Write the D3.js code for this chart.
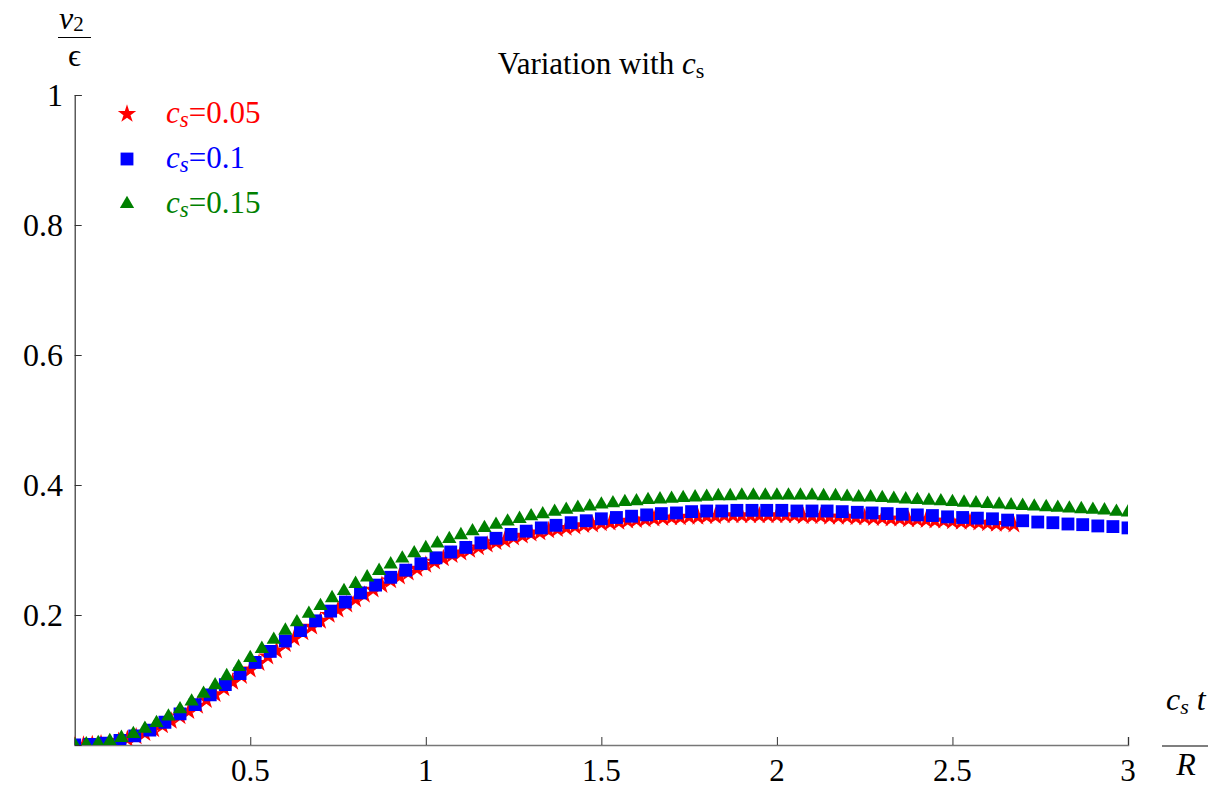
<!DOCTYPE html>
<meta charset="utf-8">
<script src="https://d3js.org/d3.v7.min.js"></script>
<style>
  body { margin: 0; background: #fff; }
</style>
<div id="chart"></div>
<script>
// data: [c_s t / R, v2 / epsilon]
var red = [[0,0],[0.025,0],[0.05,0.001],[0.075,0.002],[0.1,0.003],[0.125,0.006],[0.15,0.009],[0.175,0.013],
  [0.2,0.018],[0.225,0.024],[0.25,0.03],[0.275,0.037],[0.3,0.044],[0.325,0.052],[0.35,0.06],[0.375,0.069],
  [0.4,0.078],[0.425,0.087],[0.45,0.097],[0.475,0.106],[0.5,0.116],[0.525,0.126],[0.55,0.136],[0.575,0.145],
  [0.6,0.155],[0.625,0.164],[0.65,0.173],[0.675,0.182],[0.7,0.191],[0.725,0.2],[0.75,0.208],[0.775,0.216],
  [0.8,0.224],[0.825,0.231],[0.85,0.239],[0.875,0.246],[0.9,0.253],[0.925,0.259],[0.95,0.265],[0.975,0.271],
  [1,0.277],[1.025,0.282],[1.05,0.287],[1.075,0.292],[1.1,0.296],[1.125,0.3],[1.15,0.304],[1.175,0.308],
  [1.2,0.312],[1.225,0.315],[1.25,0.319],[1.275,0.322],[1.3,0.325],[1.325,0.327],[1.35,0.33],[1.375,0.332],
  [1.4,0.334],[1.425,0.336],[1.45,0.338],[1.475,0.339],[1.5,0.341],[1.525,0.342],[1.55,0.343],[1.575,0.345],
  [1.6,0.346],[1.625,0.347],[1.65,0.348],[1.675,0.349],[1.7,0.35],[1.725,0.35],[1.75,0.351],[1.775,0.351],
  [1.8,0.352],[1.825,0.352],[1.85,0.353],[1.875,0.353],[1.9,0.353],[1.925,0.353],[1.95,0.353],[1.975,0.353],
  [2,0.353],[2.025,0.353],[2.05,0.353],[2.075,0.352],[2.1,0.352],[2.125,0.352],[2.15,0.351],[2.175,0.351],
  [2.2,0.351],[2.225,0.35],[2.25,0.35],[2.275,0.349],[2.3,0.349],[2.325,0.348],[2.35,0.348],[2.375,0.347],
  [2.4,0.347],[2.425,0.346],[2.45,0.345],[2.475,0.345],[2.5,0.344],[2.525,0.343],[2.55,0.343],[2.575,0.342],
  [2.6,0.341],[2.625,0.34],[2.65,0.34],[2.675,0.339]];

var blue = [[0,0],[0.043,0.001],[0.086,0.003],[0.129,0.007],[0.171,0.014],[0.214,0.023],[0.257,0.035],
  [0.3,0.048],[0.343,0.062],[0.386,0.077],[0.429,0.093],[0.471,0.11],[0.514,0.127],[0.557,0.144],[0.6,0.16],
  [0.643,0.176],[0.686,0.191],[0.729,0.206],[0.771,0.22],[0.814,0.234],[0.857,0.246],[0.9,0.258],[0.943,0.269],
  [0.986,0.279],[1.029,0.288],[1.071,0.297],[1.114,0.304],[1.157,0.311],[1.2,0.318],[1.243,0.324],[1.286,0.329],
  [1.329,0.334],[1.371,0.338],[1.414,0.342],[1.457,0.345],[1.5,0.348],[1.543,0.35],[1.586,0.352],[1.629,0.354],
  [1.671,0.356],[1.714,0.357],[1.757,0.359],[1.8,0.36],[1.843,0.36],[1.886,0.361],[1.929,0.361],[1.971,0.361],
  [2.014,0.361],[2.057,0.36],[2.1,0.36],[2.143,0.36],[2.186,0.359],[2.229,0.358],[2.271,0.357],[2.314,0.356],
  [2.357,0.355],[2.4,0.354],[2.443,0.353],[2.486,0.351],[2.529,0.35],[2.571,0.349],[2.614,0.348],[2.657,0.346],
  [2.7,0.345],[2.743,0.343],[2.786,0.342],[2.829,0.34],[2.871,0.339],[2.914,0.337],[2.957,0.336],[3,0.334]];

var green = [[0,0],[0.033,0.001],[0.067,0.003],[0.1,0.006],[0.133,0.011],[0.167,0.017],[0.2,0.025],[0.233,0.034],
  [0.267,0.044],[0.3,0.055],[0.333,0.067],[0.367,0.079],[0.4,0.092],[0.433,0.106],[0.467,0.12],[0.5,0.134],
  [0.533,0.148],[0.567,0.162],[0.6,0.176],[0.633,0.189],[0.667,0.202],[0.7,0.214],[0.733,0.226],[0.767,0.237],
  [0.8,0.248],[0.833,0.258],[0.867,0.268],[0.9,0.278],[0.933,0.287],[0.967,0.295],[1,0.303],[1.033,0.31],
  [1.067,0.317],[1.1,0.323],[1.133,0.329],[1.167,0.334],[1.2,0.339],[1.233,0.344],[1.267,0.348],[1.3,0.352],
  [1.333,0.355],[1.367,0.359],[1.4,0.362],[1.433,0.365],[1.467,0.367],[1.5,0.37],[1.533,0.372],[1.567,0.374],
  [1.6,0.375],[1.633,0.377],[1.667,0.378],[1.7,0.379],[1.733,0.38],[1.767,0.381],[1.8,0.382],[1.833,0.383],
  [1.867,0.383],[1.9,0.384],[1.933,0.384],[1.967,0.384],[2,0.384],[2.033,0.384],[2.067,0.384],[2.1,0.384],
  [2.133,0.383],[2.167,0.383],[2.2,0.382],[2.233,0.381],[2.267,0.381],[2.3,0.38],[2.333,0.379],[2.367,0.378],
  [2.4,0.377],[2.433,0.376],[2.467,0.375],[2.5,0.374],[2.533,0.373],[2.567,0.372],[2.6,0.371],[2.633,0.37],
  [2.667,0.369],[2.7,0.368],[2.733,0.367],[2.767,0.366],[2.8,0.365],[2.833,0.364],[2.867,0.363],[2.9,0.362],
  [2.933,0.361],[2.967,0.359],[3,0.358]];

var csLabels = ["0.05", "0.1", "0.15"];
var xTicks = [0.5, 1, 1.5, 2, 2.5, 3];
var yTicks = [0.2, 0.4, 0.6, 0.8, 1];

var W = 1210, H = 788;
var plotLeft = 74.7, plotRight = 1128, plotTop = 95, plotBottom = 745;

var svg = d3.select("#chart").append("svg")
  .attr("width", W).attr("height", H);

var x = d3.scaleLinear().domain([0, 3]).range([plotLeft, plotRight]);
var y = d3.scaleLinear().domain([0, 1]).range([plotBottom, plotTop]);

// clip markers to the frame
svg.append("clipPath").attr("id", "clip")
  .append("rect")
  .attr("x", plotLeft).attr("y", plotTop - 10)
  .attr("width", plotRight - plotLeft).attr("height", plotBottom - plotTop + 10);

// axes
var xMinor = d3.range(1, 31).map(function (i) { return i / 10; });
var yMinor = d3.range(1, 21).map(function (i) { return i / 20; });

var gx = svg.append("g").attr("transform", "translate(0," + plotBottom + ")");
gx.call(d3.axisTop(x).tickValues(xMinor).tickSize(4).tickFormat(""));
gx.call(d3.axisTop(x).tickValues(xTicks).tickSize(8).tickFormat(""));
gx.selectAll("path").attr("stroke", "#777").attr("stroke-width", 1.5);
gx.selectAll("line").attr("stroke", "#333");

svg.selectAll(".xtl").data(xTicks).enter().append("text")
  .attr("class", "xtl")
  .attr("x", function (d) { return x(d); })
  .attr("y", 781)
  .attr("text-anchor", "middle")
  .style("font-size", "31px")
  .text(function (d) { return d; });

var gy = svg.append("g").attr("transform", "translate(" + plotLeft + ",0)");
gy.call(d3.axisRight(y).tickValues(yMinor).tickSize(4).tickFormat(""));
gy.call(d3.axisRight(y).tickValues(yTicks).tickSize(7).tickFormat(""));
gy.selectAll("path").attr("stroke", "#333").attr("stroke-width", 1.2);
gy.selectAll("line").attr("stroke", "#333");

svg.selectAll(".ytl").data(yTicks).enter().append("text")
  .attr("class", "ytl")
  .attr("x", 63)
  .attr("y", function (d) { return y(d) + 11; })
  .attr("text-anchor", "end")
  .style("font-size", "32px")
  .text(function (d) { return d; });

// markers
var series = [
  { data: red, color: "#ff0000", sym: d3.symbolStar, size: 105 },
  { data: blue, color: "#0000ff", sym: d3.symbolSquare, size: 165 },
  { data: green, color: "#008000", sym: d3.symbolTriangle, size: 88 }
];

var plot = svg.append("g").attr("clip-path", "url(#clip)");
series.forEach(function (s) {
  plot.selectAll(null).data(s.data).enter().append("path")
    .attr("d", d3.symbol().type(s.sym).size(s.size))
    .attr("transform", function (d) { return "translate(" + x(d[0]) + "," + y(d[1]) + ")"; })
    .attr("fill", s.color);
});

// legend
series.forEach(function (s, i) {
  var cy = 114 + i * 45;
  svg.append("path")
    .attr("d", d3.symbol().type(s.sym).size(s.size))
    .attr("transform", "translate(127," + cy + ")")
    .attr("fill", s.color);
  var t = svg.append("text")
    .attr("x", 166).attr("y", cy + 9)
    .attr("fill", s.color)
    .style("font-size", "31px");
  t.append("tspan").style("font-style", "italic").text("c");
  t.append("tspan").style("font-style", "italic").style("font-size", "23px").attr("dy", 4).text("s");
  t.append("tspan").attr("dy", -4).text("=" + csLabels[i]);
});

// title
var title = svg.append("text")
  .attr("x", 601).attr("y", 74)
  .attr("text-anchor", "middle")
  .style("font-size", "31px");
title.append("tspan").text("Variation with ");
title.append("tspan").style("font-style", "italic").text("c");
title.append("tspan").style("font-size", "22px").attr("dy", 4).text("s");

// y axis label (fraction)
var yl = svg.append("text").attr("x", 59).attr("y", 29).style("font-size", "32px");
yl.append("tspan").style("font-style", "italic").text("v");
yl.append("tspan").style("font-size", "21px").attr("dy", 2).text("2");
svg.append("line").attr("x1", 58).attr("x2", 91).attr("y1", 37.5).attr("y2", 37.5)
  .attr("stroke", "#000").attr("stroke-width", 1.2);
svg.append("text").attr("x", 74.5).attr("y", 66).attr("text-anchor", "middle")
  .style("font-size", "32px").text("\u03F5");

// x axis label (fraction)
var xl = svg.append("text").attr("x", 1166).attr("y", 710).style("font-size", "32px");
xl.append("tspan").style("font-style", "italic").text("c");
xl.append("tspan").style("font-style", "italic").style("font-size", "22px").attr("dy", 4).text("s");
xl.append("tspan").style("font-style", "italic").attr("dy", -4).text(" t");
svg.append("line").attr("x1", 1162).attr("x2", 1208).attr("y1", 746).attr("y2", 746)
  .attr("stroke", "#000").attr("stroke-width", 1.2);
svg.append("text").attr("x", 1186).attr("y", 775).attr("text-anchor", "middle")
  .style("font-size", "32px").style("font-style", "italic").text("R");

// serif face for every text
svg.selectAll("text").style("font-family", "'Liberation Serif'");
</script>
